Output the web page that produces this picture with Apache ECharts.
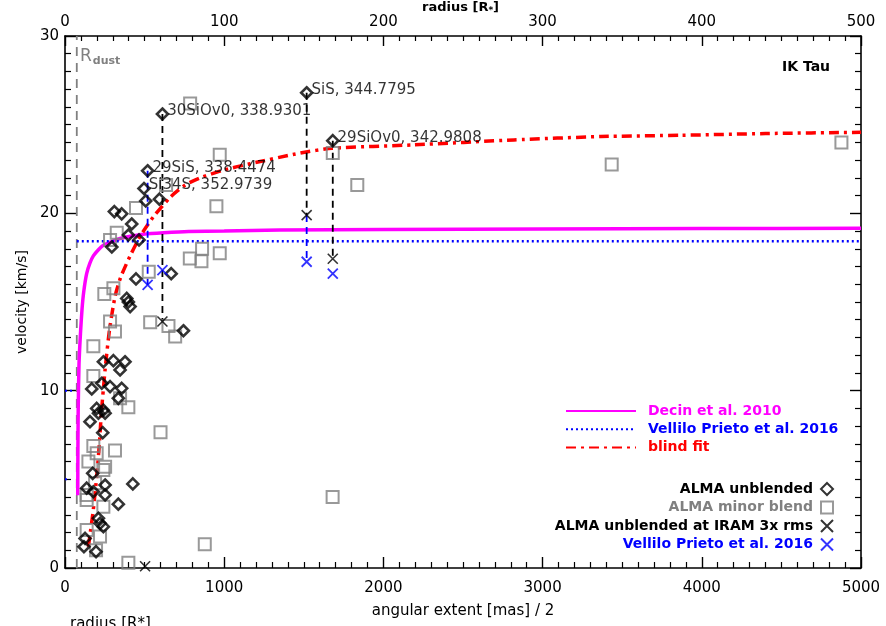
<!DOCTYPE html>
<html>
<head>
<meta charset="utf-8">
<script src="https://cdn.jsdelivr.net/npm/echarts@6/dist/echarts.min.js"></script>
<style>
html, body { margin: 0; padding: 0; background: #fff; }
#chart { width: 886px; height: 626px; }
</style>
</head>
<body>
<div id="chart"></div>
<script>
// [angular extent (mas)/2, velocity (km/s)]
const unblended = [
  [507, 20.7], [593, 20.8], [310, 20.1], [356, 19.97], [419, 19.4], [398, 18.78],
  [294, 18.1], [465, 18.5], [446, 16.3], [667, 16.6], [388, 15.2], [398, 15.0],
  [409, 14.74], [744, 13.38], [241, 11.63], [304, 11.69], [377, 11.63], [346, 11.17],
  [168, 10.1], [231, 10.42], [283, 10.23], [356, 10.13], [199, 9.0], [241, 8.9],
  [335, 9.57], [157, 8.25], [210, 8.73], [252, 8.73], [237, 7.63], [174, 5.34],
  [136, 4.5], [178, 4.3], [252, 4.68], [252, 4.12], [426, 4.74], [335, 3.6],
  [210, 2.8], [241, 2.33], [220, 2.52], [126, 1.67], [119, 1.2], [195, 0.92]
];
const labeledNames = [
  '30SiOv0, 338.9301', 'SiS, 344.7795', '29SiOv0, 342.9808', '29SiS, 338.4474', 'Si34S, 352.9739'
];
const labeledPts = [[612, 25.6], [1518, 26.8], [1682, 24.1], [519, 22.4], [496, 21.4]];
const minorBlend = [
  [786, 26.2], [972, 23.3], [951, 20.4], [635, 21.6], [446, 20.3], [1682, 23.4],
  [1836, 21.6], [3434, 22.75], [4877, 24.0], [325, 18.9], [283, 18.5], [526, 16.7],
  [784, 17.45], [857, 17.3], [861, 18.0], [972, 17.75], [247, 15.45], [304, 15.78],
  [283, 13.9], [314, 13.33], [178, 12.5], [535, 13.86], [650, 13.65], [692, 13.05],
  [178, 10.83], [346, 9.57], [398, 9.06], [600, 7.65], [178, 6.88], [314, 6.62],
  [147, 6.0], [199, 6.47], [252, 5.71], [241, 5.53], [189, 4.78], [136, 4.12],
  [136, 3.84], [241, 3.46], [136, 2.14], [220, 1.77], [195, 1.0], [398, 0.3],
  [878, 1.34], [1681, 4.0]
];
const iramX = [[612, 13.9], [1518, 19.9], [1682, 17.44], [503, 0.1]];
const vpX = [[519, 15.96], [612, 16.8], [1518, 17.27], [1682, 16.6]];

// [x, top, bottom] of the dashed drop lines
const blackDrops = [[612, 25.6, 13.9], [1518, 26.8, 19.9], [1682, 24.1, 17.44]];
const blueDrops = [[519, 22.4, 15.96], [1518, 19.9, 17.27]];

const decinCurve = [
  [80, 4.1], [81, 6.5], [83, 9], [88, 11.5], [97, 13.2], [107, 14.6], [118, 15.6],
  [136, 16.6], [157, 17.2], [178, 17.6], [210, 17.95], [241, 18.2], [304, 18.45],
  [346, 18.58], [420, 18.72], [492, 18.82], [620, 18.9], [776, 18.97], [1000, 19.0],
  [1350, 19.06], [2000, 19.09], [3000, 19.12], [4000, 19.14], [5000, 19.16]
];
const blindFit = [
  [147, 1.2], [162, 2.2], [178, 3.3], [199, 5.15], [216, 7.0], [228, 8.7], [252, 11.2],
  [279, 13.4], [314, 15.3], [350, 16.4], [409, 17.6], [472, 18.7], [555, 19.8],
  [660, 20.9], [755, 21.6], [849, 22.0], [1000, 22.45], [1164, 22.8], [1478, 23.4],
  [1677, 23.67], [2190, 23.86], [2820, 24.14], [3365, 24.33], [3868, 24.4],
  [4400, 24.5], [5000, 24.57]
];
const vpLine = [[74, 18.43], [5000, 18.43]];
const vpInner = [[[0, 5], [12, 5]], [[0, 10], [60, 10]]];
const rDust = [[74, 0], [74, 30]];

const legendText = {
  decin: 'Decin et al. 2010',
  vp_line: 'Vellilo Prieto et al. 2016',
  blind: 'blind fit',
  unblended: 'ALMA unblended',
  minor: 'ALMA minor blend',
  iram: 'ALMA unblended at IRAM 3x rms',
  vp_x: 'Vellilo Prieto et al. 2016'
};

const FONT = 'DejaVu Sans';
const crossPath = 'path://M0,0L10,10M10,0L0,10';

const chart = echarts.init(document.getElementById('chart'));

function dropSeries(drops, color) {
  return drops.map(d => ({
    type: 'line',
    symbol: 'none',
    silent: true,
    z: 3,
    lineStyle: { color: color, width: 1.8, type: [7, 5] },
    data: [[d[0], d[1]], [d[0], d[2]]]
  }));
}

const markerLegend = (name, color, top) => ({
  right: 47,
  top: top,
  align: 'right',
  itemWidth: 12,
  itemHeight: 12,
  selectedMode: false,
  formatter: n => legendText[n],
  textStyle: { fontFamily: FONT, fontSize: 14, fontWeight: 'bold', color: color, padding: [0, 3, 0, 0] },
  data: [name]
});

const axisCommon = {
  type: 'value',
  splitLine: { show: false },
  axisLine: { onZero: false, lineStyle: { color: '#000', width: 1.6 } },
  axisTick: { inside: true, length: 11, lineStyle: { color: '#000', width: 1.4 } },
  minorTick: { show: true, splitNumber: 10, length: 6, lineStyle: { color: '#000', width: 1.2 } },
  axisLabel: { fontFamily: FONT, fontSize: 15, color: '#000', formatter: v => String(v) }
};

const option = {
  backgroundColor: '#fff',
  animation: false,
  grid: { left: 65, right: 25, top: 36, bottom: 58, outerBoundsMode: 'none', containLabel: false },
  xAxis: [
    Object.assign({}, axisCommon, {
      position: 'bottom',
      min: 0, max: 5000, interval: 1000,
      axisLabel: Object.assign({}, axisCommon.axisLabel, { margin: 13 }),
      name: 'angular extent [mas] / 2',
      nameLocation: 'middle',
      nameGap: 36,
      nameTextStyle: { fontFamily: FONT, fontSize: 15, color: '#000' }
    }),
    Object.assign({}, axisCommon, {
      position: 'top',
      min: 0, max: 500, interval: 100,
      axisTick: Object.assign({}, axisCommon.axisTick, { length: 10 }),
      minorTick: Object.assign({}, axisCommon.minorTick, { length: 5 }),
      axisLabel: Object.assign({}, axisCommon.axisLabel, { margin: 6 })
    })
  ],
  yAxis: [
    Object.assign({}, axisCommon, {
      position: 'left',
      min: 0, max: 30, interval: 10,
      axisLabel: Object.assign({}, axisCommon.axisLabel, { margin: 6 }),
      name: 'velocity [km/s]',
      nameLocation: 'middle',
      nameGap: 36,
      nameTextStyle: { fontFamily: FONT, fontSize: 14, color: '#000' }
    }),
    Object.assign({}, axisCommon, {
      position: 'right',
      min: 0, max: 30, interval: 10,
      axisLabel: { show: false }
    })
  ],
  legend: [
    {
      left: 560,
      top: 399,
      orient: 'vertical',
      itemWidth: 70,
      itemHeight: 14,
      itemGap: 4.3,
      selectedMode: false,
      itemStyle: { opacity: 0 },
      lineStyle: { width: 2 },
      formatter: n => legendText[n],
      textStyle: { fontFamily: FONT, fontSize: 14, fontWeight: 'bold', padding: [0, 0, 0, 7] },
      data: [
        { name: 'decin', textStyle: { color: '#ff00ff' } },
        { name: 'vp_line', textStyle: { color: '#0000ff' } },
        { name: 'blind', textStyle: { color: '#ff0000' } }
      ]
    },
    markerLegend('unblended', '#000', 477),
    markerLegend('minor', '#808080', 495.5),
    markerLegend('iram', '#000', 514),
    markerLegend('vp_x', '#0000ff', 532.5)
  ],
  graphic: [
    {
      type: 'text', left: 422, top: 1,
      style: {
        text: 'radius [R{s|*}]',
        font: 'bold 13px "DejaVu Sans"',
        fill: '#000',
        rich: { s: { fontFamily: FONT, fontSize: 9, fontWeight: 'bold', fill: '#000', padding: [6, 0, 0, 0] } }
      }
    },
    {
      type: 'text', left: 80, top: 48,
      style: {
        text: 'R{d|dust}',
        font: '17px "DejaVu Sans"',
        fill: '#808080',
        rich: { d: { fontFamily: FONT, fontSize: 11, fontWeight: 'bold', fill: '#808080', padding: [9, 0, 0, 1] } }
      }
    },
    {
      type: 'text', left: 782, top: 60,
      style: { text: 'IK Tau', font: 'bold 14px "DejaVu Sans"', fill: '#000' }
    },
    {
      type: 'text', left: 70, top: 617,
      style: { text: 'radius [R*]', font: '15px "DejaVu Sans"', fill: '#000' }
    }
  ],
  series: [
    {
      name: 'rdust', type: 'line', symbol: 'none', silent: true, z: 1,
      lineStyle: { color: '#808080', width: 1.8, type: [9, 7] },
      data: rDust
    },
    {
      name: 'decin', type: 'line', symbol: 'none', smooth: 0.2, z: 2,
      lineStyle: { color: '#ff00ff', width: 3.5 },
      data: decinCurve
    },
    {
      name: 'vp_line', type: 'line', symbol: 'none', z: 2,
      lineStyle: { color: '#0000ff', width: 2.5, type: [2, 3] },
      data: vpLine
    }
  ].concat(vpInner.map(seg => ({
    type: 'line', symbol: 'none', silent: true, z: 2,
    lineStyle: { color: '#0000ff', width: 2, type: [2, 3] },
    data: seg
  }))).concat([
    {
      name: 'blind', type: 'line', symbol: 'none', smooth: 0.2, z: 2,
      lineStyle: { color: '#ff0000', width: 3.5, type: [10, 5, 3, 5] },
      data: blindFit
    }
  ]).concat(dropSeries(blackDrops, '#000'), dropSeries(blueDrops, '#0000ff')).concat([
    {
      name: 'minor', type: 'scatter', symbol: 'rect', symbolSize: 12, z: 4,
      itemStyle: { color: 'rgba(255,255,255,0)', borderColor: '#808080', borderWidth: 2 },
      data: minorBlend
    },
    {
      name: 'unblended', type: 'scatter', symbol: 'diamond', symbolSize: 11, z: 5,
      itemStyle: { color: 'rgba(255,255,255,0)', borderColor: '#000', borderWidth: 2.6 },
      data: unblended.concat(labeledPts.map((p, i) => ({
        value: p,
        label: {
          show: true,
          position: 'right',
          distance: -2,
          offset: [0, -3],
          formatter: labeledNames[i],
          fontFamily: FONT,
          fontSize: 15,
          color: '#000'
        }
      })))
    },
    {
      name: 'iram', type: 'scatter', symbol: crossPath, symbolSize: 10, z: 6,
      itemStyle: { color: 'rgba(255,255,255,0)', borderColor: '#000', borderWidth: 1.6 },
      data: iramX
    },
    {
      name: 'vp_x', type: 'scatter', symbol: crossPath, symbolSize: 10, z: 6,
      itemStyle: { color: 'rgba(255,255,255,0)', borderColor: '#0000ff', borderWidth: 1.8 },
      data: vpX
    }
  ])
};

chart.setOption(option);
</script>
</body>
</html>
